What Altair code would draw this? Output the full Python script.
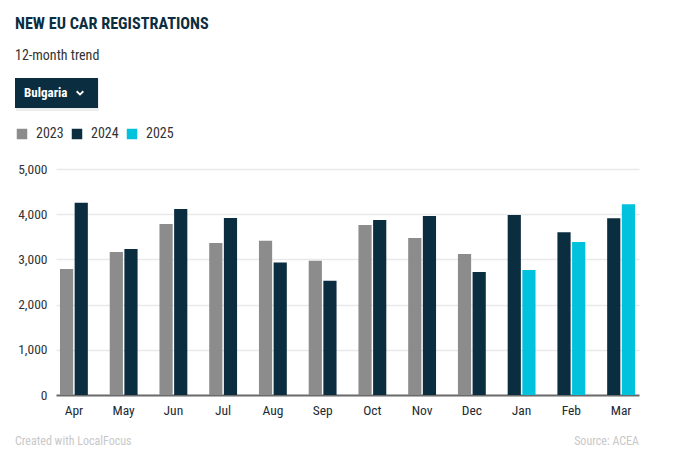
import altair as alt
import pandas as pd

months = ["Apr", "May", "Jun", "Jul", "Aug", "Sep", "Oct", "Nov", "Dec", "Jan", "Feb", "Mar"]
months_2023 = ["Apr", "May", "Jun", "Jul", "Aug", "Sep", "Oct", "Nov", "Dec"]
v2023 = [2790, 3165, 3785, 3365, 3415, 2970, 3760, 3475, 3120]
v2024 = [4255, 3230, 4115, 3915, 2930, 2525, 3870, 3960, 2720, 3980, 3600, 3910]
months_2025 = ["Jan", "Feb", "Mar"]
v2025 = [2765, 3385, 4220]
years = ["2023", "2024", "2025"]
colors = ["#8c8c8c", "#0b2d40", "#00c2dc"]

rows = []
for m, v in zip(months_2023, v2023):
    rows.append({"month": m, "slot": "a", "year": "2023", "value": v})
for m, v in zip(months, v2024):
    rows.append({"month": m, "slot": "b" if m in months_2023 else "a", "year": "2024", "value": v})
for m, v in zip(months_2025, v2025):
    rows.append({"month": m, "slot": "b", "year": "2025", "value": v})
df = pd.DataFrame(rows)

COND = "Roboto Condensed, Liberation Sans Narrow, Roboto"
NAVY = "#0b2d40"

bars = alt.Chart(df).mark_bar().encode(
    x=alt.X("month:N", sort=months, title=None,
            scale=alt.Scale(paddingInner=0.44, paddingOuter=0.08),
            axis=alt.Axis(labelAngle=0, ticks=False, grid=False, domainColor="#6b6b6b", domainWidth=2,
                          labelPadding=8, labelFontSize=13.5, labelColor="#1d2b33", labelFont=COND)),
    xOffset=alt.XOffset("slot:N", scale=alt.Scale(paddingInner=0.1)),
    y=alt.Y("value:Q", title=None,
            scale=alt.Scale(domain=[0, 5000], nice=False),
            axis=alt.Axis(values=[0, 1000, 2000, 3000, 4000, 5000], format=",.0f", ticks=False, domain=False,
                          gridColor="#e9e9e9", gridWidth=1.5, labelPadding=9, labelFontSize=13.5,
                          labelColor="#333333", labelFont=COND)),
    color=alt.Color("year:N", scale=alt.Scale(domain=years, range=colors),
                    legend=alt.Legend(title=None, orient="none", legendX=-41, legendY=-42,
                                      direction="horizontal", symbolType="square", symbolSize=110,
                                      symbolStrokeWidth=0, labelFontSize=14, labelFont=COND,
                                      labelColor="#333333", labelOffset=7, columnPadding=6)),
)

one = alt.Data(values=[{}])

def txt(s, x, y, size, color, weight="normal", font=COND, align="left"):
    return alt.Chart(one).mark_text(text=s, fontSize=size, color=color, fontWeight=weight, font=font,
                                    align=align, baseline="middle").encode(
        x=alt.value(x), y=alt.value(y))

def box(cx, cy, half_h, fill, opacity):
    return alt.Chart(one).mark_point(
        shape=f"M-1,-{half_h}L1,-{half_h}L1,{half_h}L-1,{half_h}Z", filled=True, size=6889,
        color=fill, opacity=opacity, strokeWidth=0).encode(x=alt.value(cx), y=alt.value(cy))

title = txt("NEW EU CAR REGISTRATIONS", -41, -145, 16.2, NAVY, "bold")
subtitle = txt("12-month trend", -41, -113, 14, "#333333")
shadow = box(1.5, -74, 0.3855, "#000000", 0.07)
button = box(0.5, -76, 0.3614, NAVY, 1)
btn_text = txt("Bulgaria", -32, -76, 13, "#ffffff", "bold")
chevron = alt.Chart(one).mark_point(shape="M-1,-0.5L0,0.5L1,-0.5", filled=False, size=44,
                                    color="#ffffff", strokeWidth=1.8, opacity=1).encode(
    x=alt.value(24), y=alt.value(-76.1))
foot1 = txt("Created with LocalFocus", -41, 272, 12, "#c8c8c8")
foot2 = txt("Source: ACEA", 583, 272, 12, "#c8c8c8", align="right")

chart = alt.layer(shadow, button, bars, title, subtitle, btn_text, chevron, foot1, foot2).properties(
    width=583, height=226,
    autosize=alt.AutoSizeParams(type="none"),
    padding={"left": 48, "top": 161, "right": 49, "bottom": 70},
).configure(
    background="#ffffff",
    view=alt.ViewConfig(stroke="transparent", strokeWidth=0, strokeOpacity=0),
)

chart.save("out.html", embed_options={"renderer": "svg", "actions": False})
